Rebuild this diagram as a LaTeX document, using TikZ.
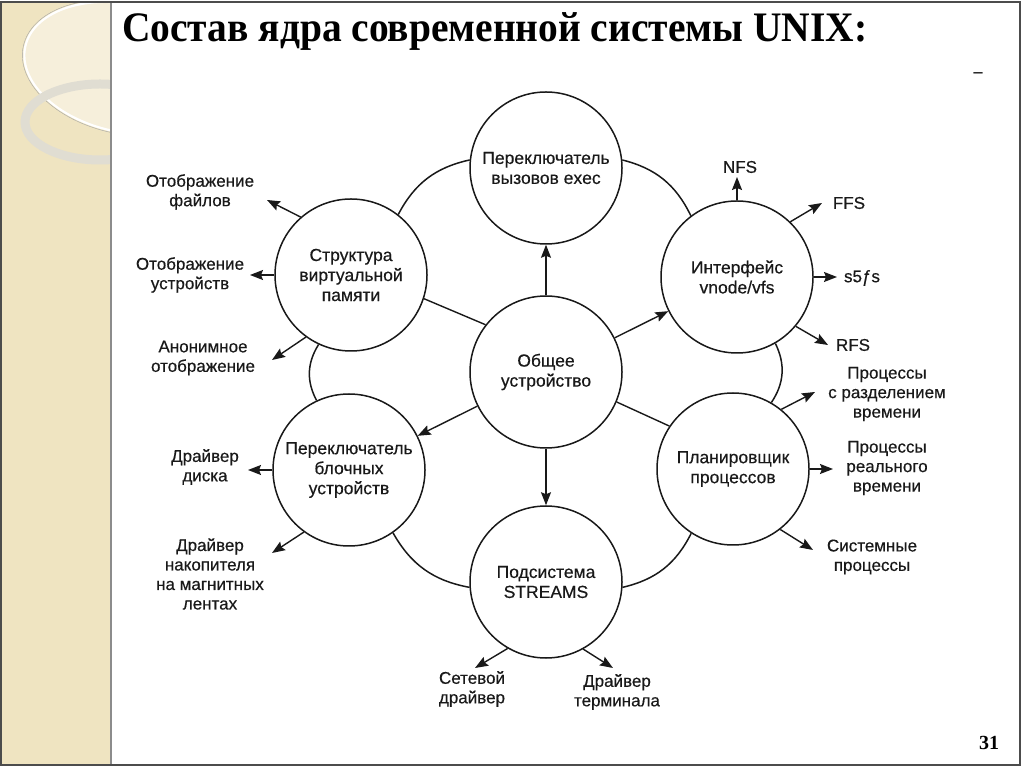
\documentclass[tikz,border=0pt]{standalone}
\usepackage{fontspec}
\setmainfont{Liberation Sans}[FakeBold=0.4]
\newfontfamily\titlefont{Liberation Serif}[FakeStretch=0.94]
\newfontfamily\numfont{Liberation Serif}
\usetikzlibrary{arrows.meta}
\definecolor{stripcol}{RGB}{239,228,193}
\definecolor{striplight}{RGB}{246,239,219}
\definecolor{ringcol}{RGB}{224,221,210}
\definecolor{ink}{RGB}{25,25,25}
\begin{document}
\begin{tikzpicture}[x=1pt,y=1pt,
  circ/.style={circle,draw=ink,line width=1.5pt,fill=white,minimum size=152pt,inner sep=0pt,align=center,font=\fontsize{17.5}{20}\selectfont,text=ink},
  lab/.style={align=center,inner sep=0pt,font=\fontsize{17}{19.5}\selectfont,text=ink},
  arr/.style={draw=ink,line width=1.4pt,-{Stealth[length=13pt,width=10pt,inset=2pt]}},
  link/.style={draw=ink,line width=1.4pt},
  ring/.style={draw=ink,line width=1.5pt}
]
\useasboundingbox (0,0) rectangle (1024,768);
\fill[white] (0,0) rectangle (1024,768);
% decorative strip
\fill[stripcol] (0,3) rectangle (110,766);
\begin{scope}
  \clip (0,3) rectangle (110,766);
  \fill[striplight, rotate around={-12:(125,700)}] (125,700) ellipse [x radius=102, y radius=64];
  \draw[white, line width=2.2pt, rotate around={-12:(125,700)}] (125,700) ellipse [x radius=102, y radius=64];
  \draw[black!35, line width=0.4pt, rotate around={-12:(125,700)}] (125,700) ellipse [x radius=104, y radius=66];
  \draw[ringcol, line width=9pt] (100,646) ellipse [x radius=75, y radius=38];
\end{scope}
\draw[black!45, line width=1.5pt] (111,3) -- (111,766);
\draw[black!70, line width=1.2pt] (1,3) rectangle (1020,766);
% title
\node[anchor=base west, inner sep=0pt, font=\titlefont\bfseries\fontsize{42}{46}\selectfont, text=black] (title) at (122,726) {Состав ядра современной системы UNIX:};
\node[inner sep=0pt, font=\numfont\bfseries\fontsize{18}{20}\selectfont] (dash) at (978,693) {–};
\node[inner sep=0pt, font=\numfont\bfseries\fontsize{20}{22}\selectfont] (pnum) at (989,25) {31};
% circles
\node[circ] (top) at (546,600) {Переключатель\\вызовов exec};
\node[circ] (ctr) at (546,396) {Общее\\устройство};
\node[circ] (ul) at (351,493) {Структура\\виртуальной\\памяти};
\node[circ] (ur) at (737,491) {Интерфейс\\vnode/vfs};
\node[circ] (ll) at (349,298) {Переключатель\\блочных\\устройств};
\node[circ] (lr) at (733,299) {Планировщик\\процессов};
\node[circ] (bot) at (546,186) {Подсистема\\STREAMS};
% outer ring arcs
\draw[ring] (top.174) to[bend right=25] (ul.52);
\draw[ring] (ul.245) to[bend right=30] (ll.115);
\draw[ring] (ll.305) to[bend right=25] (bot.184);
\draw[ring] (bot.-4) to[bend right=25] (lr.237);
\draw[ring] (lr.60) to[bend right=30] (ur.-60);
\draw[ring] (ur.127) to[bend right=25] (top.6);
% center connections
\draw[arr] (ctr) -- (top);
\draw[arr] (ctr) -- (bot);
\draw[arr] (ctr) -- (ur);
\draw[arr] (ctr) -- (ll);
\draw[link] (ctr.142) -- (ul.-18);
\draw[link] (ctr.-23) -- (lr.146);
% labels
\node[lab] (lfiles) at (200,576) {Отображение\\файлов};
\node[lab] (ldev) at (190,493) {Отображение\\устройств};
\node[lab] (lanon) at (203,410) {Анонимное\\отображение};
\node[lab] (lnfs) at (740,601) {NFS};
\node[lab] (lffs) at (849,565) {FFS};
\node[lab] (ls5) at (862,490) {s5ƒs};
\node[lab] (lrfs) at (853,423) {RFS};
\node[lab] (lts) at (887,374) {Процессы\\с разделением\\времени};
\node[lab] (lrt) at (887,300) {Процессы\\реального\\времени};
\node[lab] (lsys) at (872,211) {Системные\\процессы};
\node[lab] (ldisk) at (205,301) {Драйвер\\диска};
\node[lab] (ltape) at (210,194) {Драйвер\\накопителя\\на магнитных\\лентах};
\node[lab] (lnet) at (472,79) {Сетевой\\драйвер};
\node[lab] (lterm) at (617,76) {Драйвер\\терминала};
% arrow tips
\coordinate (tfiles) at (267,568);
\coordinate (tdev) at (250,493);
\coordinate (tanon) at (272,408);
\coordinate (tnfs) at (737,591);
\coordinate (tffs) at (822,565);
\coordinate (ts5) at (837,491);
\coordinate (trfs) at (828,423);
\coordinate (tts) at (815,376);
\coordinate (trt) at (833,299);
\coordinate (tsys) at (813,218);
\coordinate (tdisk) at (248,298);
\coordinate (ttape) at (272,215);
\coordinate (tnet) at (475,100);
\coordinate (tterm) at (613,100);
% outer arrows
\draw[arr] (ul.131) -- (tfiles);
\draw[arr] (ul.180) -- (tdev);
\draw[arr] (ul.234) -- (tanon);
\draw[arr] (ur.90) -- (tnfs);
\draw[arr] (ur.46) -- (tffs);
\draw[arr] (ur.0) -- (ts5);
\draw[arr] (ur.-40) -- (trfs);
\draw[arr] (lr.51) -- (tts);
\draw[arr] (lr.0) -- (trt);
\draw[arr] (lr.-52) -- (tsys);
\draw[arr] (ll.180) -- (tdisk);
\draw[arr] (ll.234) -- (ttape);
\draw[arr] (bot.240) -- (tnet);
\draw[arr] (bot.-61) -- (tterm);
\end{tikzpicture}
\end{document}
